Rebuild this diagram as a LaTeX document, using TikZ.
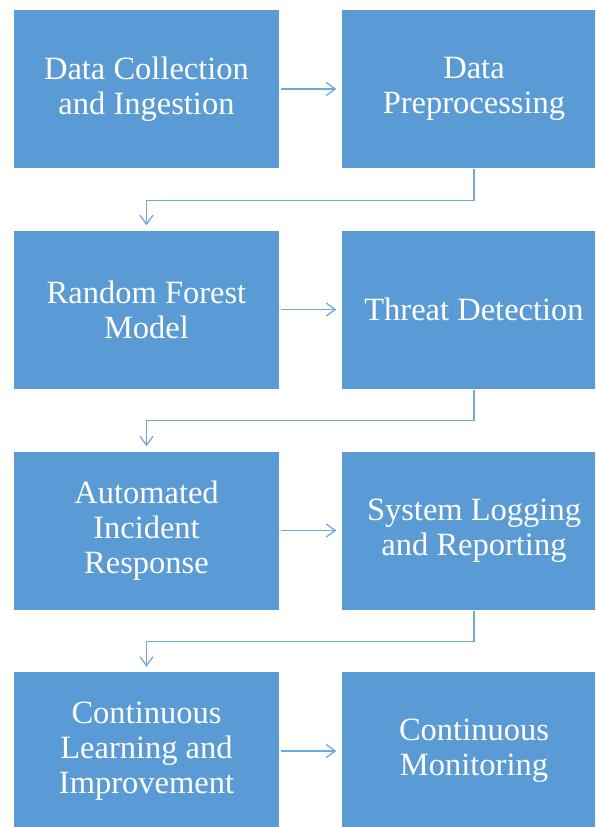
\documentclass[tikz,border=0pt]{standalone}
\usepackage{fontspec}
\setmainfont{Liberation Serif}
\newfontfamily\stagefont{Liberation Serif}
\usetikzlibrary{arrows.meta}
\definecolor{boxblue}{RGB}{91,155,213}
\definecolor{linkblue}{RGB}{112,168,222}
\begin{document}
\begin{tikzpicture}[x=1pt,y=-1pt,
  stagebox/.style={fill=boxblue, draw=none, minimum width=265pt, minimum height=158pt,
    inner sep=0pt, text=white, align=center,
    font=\stagefont\fontsize{32.5}{35}\selectfont},
  link/.style={draw=linkblue, line width=1.3pt,
    -{Straight Barb[length=9pt,width=13pt,line width=1.3pt]}}]
  \useasboundingbox (0,0) rectangle (595,827);
  \clip (0,0) rectangle (595,827);
  % stages, two per row
  \node[stagebox] (s1) at (146.5,89) {Data Collection\\and Ingestion};
  \node[stagebox] (s2) at (474,89) {Data\\Preprocessing};
  \node[stagebox] (s3) at (146.5,309.5) {Random Forest\\Model};
  \node[stagebox] (s4) at (474,309.5) {Threat Detection};
  \node[stagebox] (s5) at (146.5,530.5) {Automated\\Incident\\Response};
  \node[stagebox] (s6) at (474,530.5) {System Logging\\and Reporting};
  \node[stagebox] (s7) at (146.5,751) {Continuous\\Learning and\\Improvement};
  \node[stagebox] (s8) at (474,751) {Continuous\\Monitoring};
  % left-to-right links within a row
  \foreach \a/\b in {s1/s2,s3/s4,s5/s6,s7/s8}
    \draw[link] ([xshift=2pt]\a.east) -- ([xshift=-5pt]\b.west);
  % elbow links down to the next row
  \foreach \a/\b in {s2/s3,s4/s5,s6/s7}
    \draw[link] ([yshift=-1pt]\a.south) -- ++(0,31) -| ([yshift=5pt]\b.north);
\end{tikzpicture}
\end{document}
